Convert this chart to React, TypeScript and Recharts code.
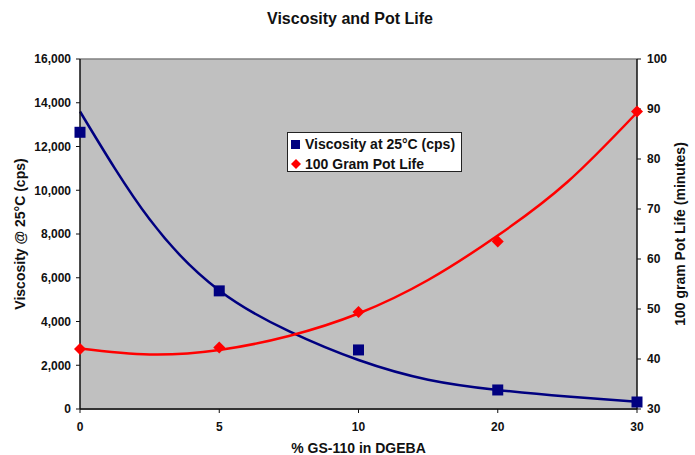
import React from "react";
import {
  ComposedChart,
  Line,
  Scatter,
  XAxis,
  YAxis,
  CartesianGrid,
  Legend,
  ReferenceLine,
  Label,
} from "recharts";

// categories on the x axis (plotted evenly, like an Excel line chart)
const xLabels = ["0", "5", "10", "20", "30"];

// measured points
const viscosity = [12650, 5400, 2700, 870, 320];
const potLife = [42, 42.3, 49.4, 63.5, 89.5];

// trendlines at half-category steps
const trendX = [0, 0.5, 1, 1.5, 2, 2.5, 3, 3.5, 4];
const viscosityTrend = [13600, 8670, 5420, 3560, 2240, 1340, 870, 570, 330];
const potLifeTrend = [42.1, 40.9, 41.8, 44.6, 49.1, 55.8, 64.7, 75.4, 89.3];

const leftTicks = [0, 2000, 4000, 6000, 8000, 10000, 12000, 14000, 16000];
const rightTicks = [30, 40, 50, 60, 70, 80, 90, 100];

const FONT = "'Liberation Sans', Arial, sans-serif";
const NAVY = "#000080";
const RED = "#ff0000";

const viscosityPoints = viscosity.map((v, i) => ({ i, v }));
const potLifePoints = potLife.map((v, i) => ({ i, v }));
const viscosityLine = trendX.map((i, k) => ({ i, v: viscosityTrend[k] }));
const potLifeLine = trendX.map((i, k) => ({ i, v: potLifeTrend[k] }));

const Square = (props: any) => {
  const { cx, cy } = props;
  return <rect x={cx - 5.5} y={cy - 5.5} width={11} height={11} fill={NAVY} />;
};

const Diamond = (props: any) => {
  const { cx, cy } = props;
  const r = 6;
  return (
    <polygon
      points={`${cx},${cy - r} ${cx + r},${cy} ${cx},${cy + r} ${cx - r},${cy}`}
      fill={RED}
    />
  );
};

const LegendBox = () => (
  <div
    style={{
      width: 173,
      height: 38,
      border: "1px solid #222",
      background: "#fff",
      fontFamily: FONT,
      fontWeight: "bold",
      fontSize: 14,
      color: "#111",
      lineHeight: "20px",
      textAlign: "left",
    }}
  >
    <div style={{ display: "flex", alignItems: "center", height: 20, marginTop: 1 }}>
      <svg width={17} height={20}>
        <rect x={3} y={6} width={9} height={9} fill={NAVY} />
      </svg>
      <span>Viscosity at 25°C (cps)</span>
    </div>
    <div style={{ display: "flex", alignItems: "center", height: 20 }}>
      <svg width={17} height={20}>
        <polygon points="8,5 13,10 8,15 3,10" fill={RED} />
      </svg>
      <span>100 Gram Pot Life</span>
    </div>
  </div>
);

const tickStyle = { fontFamily: FONT, fontWeight: "bold", fontSize: 12, fill: "#111" };
const titleStyle = { fontFamily: FONT, fontWeight: "bold", fontSize: 14, fill: "#111" };

export default function App() {
  return (
    <div style={{ position: "absolute", left: 0, top: 0 }}>
      <ComposedChart
        width={695}
        height={455}
        margin={{ top: 59, right: 0, bottom: 0, left: 0 }}
      >
        <text
          x={350}
          y={24}
          textAnchor="middle"
          style={{ fontFamily: FONT, fontWeight: "bold", fontSize: 16, fill: "#111" }}
        >
          Viscosity and Pot Life
        </text>
        <CartesianGrid fill="#c0c0c0" horizontal={false} vertical={false} />
        <XAxis
          dataKey="i"
          type="number"
          domain={[0, 4]}
          ticks={[0, 1, 2, 3, 4]}
          tickFormatter={(i: number) => xLabels[i]}
          height={46}
          tickSize={4}
          tickMargin={9}
          tick={tickStyle}
          axisLine={{ stroke: "#333", strokeWidth: 2 }}
          tickLine={{ stroke: "#111" }}
        >
          <Label
            content={(p: any) => (
              <text
                x={p.viewBox.x + p.viewBox.width / 2}
                y={453}
                textAnchor="middle"
                style={titleStyle}
              >
                % GS-110 in DGEBA
              </text>
            )}
          />
        </XAxis>
        <YAxis
          yAxisId="left"
          domain={[0, 16000]}
          ticks={leftTicks}
          width={80}
          tickSize={4}
          tickMargin={5}
          tick={tickStyle}
          tickFormatter={(v: number) => v.toLocaleString("en-US")}
          axisLine={{ stroke: "#111", strokeWidth: 1.5 }}
          tickLine={{ stroke: "#111" }}
        >
          <Label
            content={(p: any) => {
              const x = p.viewBox.x + 20;
              const y = p.viewBox.y + p.viewBox.height / 2;
              return (
                <text
                  x={x}
                  y={y}
                  textAnchor="middle"
                  dominantBaseline="central"
                  transform={`rotate(-90 ${x} ${y})`}
                  style={titleStyle}
                >
                  Viscosity @ 25°C (cps)
                </text>
              );
            }}
          />
        </YAxis>
        <YAxis
          yAxisId="right"
          orientation="right"
          domain={[30, 100]}
          ticks={rightTicks}
          width={58}
          tickSize={4}
          tickMargin={6}
          tick={tickStyle}
          axisLine={{ stroke: "#111", strokeWidth: 1.5 }}
          tickLine={{ stroke: "#111" }}
        >
          <Label
            content={(p: any) => {
              const x = p.viewBox.x + 43;
              const y = p.viewBox.y + p.viewBox.height / 2;
              return (
                <text
                  x={x}
                  y={y}
                  textAnchor="middle"
                  dominantBaseline="central"
                  transform={`rotate(-90 ${x} ${y})`}
                  style={titleStyle}
                >
                  100 gram Pot Life (minutes)
                </text>
              );
            }}
          />
        </YAxis>
        <ReferenceLine yAxisId="left" y={16000} stroke="#808080" strokeWidth={1.5} />
        <Line
          yAxisId="left"
          data={viscosityLine}
          dataKey="v"
          type="natural"
          stroke={NAVY}
          strokeWidth={2.5}
          dot={false}
          activeDot={false}
          isAnimationActive={false}
        />
        <Line
          yAxisId="right"
          data={potLifeLine}
          dataKey="v"
          type="natural"
          stroke={RED}
          strokeWidth={2.5}
          dot={false}
          activeDot={false}
          isAnimationActive={false}
        />
        <Scatter
          yAxisId="left"
          data={viscosityPoints}
          dataKey="v"
          shape={Square}
          isAnimationActive={false}
        />
        <Scatter
          yAxisId="right"
          data={potLifePoints}
          dataKey="v"
          shape={Diamond}
          isAnimationActive={false}
        />
        <Legend
          layout="horizontal"
          verticalAlign="middle"
          align="center"
          content={() => <LegendBox />}
          wrapperStyle={{ left: 287, top: 132, width: 175, height: 40 }}
        />
      </ComposedChart>
    </div>
  );
}
